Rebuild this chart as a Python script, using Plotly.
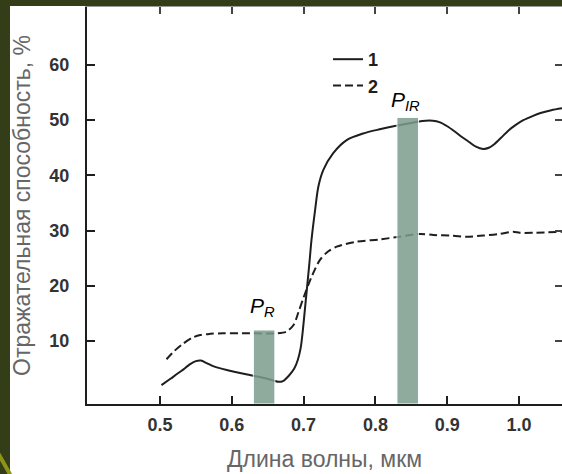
import plotly.graph_objects as go

# Spectral reflectance curves (wavelength in µm, reflectance in %)
wl_1 = [0.502, 0.515, 0.530, 0.542, 0.550, 0.557, 0.565, 0.575, 0.593, 0.625,
        0.645, 0.658, 0.665, 0.672, 0.680, 0.687, 0.692, 0.696, 0.699, 0.702,
        0.705, 0.708, 0.711, 0.716, 0.7205, 0.7275, 0.741, 0.760, 0.783, 0.806,
        0.827, 0.850, 0.865, 0.880, 0.890, 0.900, 0.910, 0.920, 0.930, 0.940,
        0.950, 0.958, 0.966, 0.975, 0.985, 0.995, 1.006, 1.018, 1.030, 1.045,
        1.060]
refl_1 = [2.0, 3.2, 4.6, 5.8, 6.35, 6.45, 6.0, 5.4, 4.75, 3.84,
          3.3, 2.85, 2.6, 2.8, 3.8, 5.0, 6.6, 8.8, 12.0, 16.0,
          20.0, 24.0, 28.3, 33.7, 37.95, 41.0, 44.0, 46.4, 47.6, 48.35,
          48.95, 49.5, 49.85, 49.9, 49.6, 48.9, 48.0, 47.0, 46.1, 45.2,
          44.8, 45.0, 45.7, 46.8, 48.1, 49.1, 50.0, 50.7, 51.3, 51.8,
          52.15]

wl_2 = [0.509, 0.520, 0.532, 0.545, 0.556, 0.570, 0.588, 0.625, 0.662, 0.676,
        0.686, 0.693, 0.700, 0.711, 0.7228, 0.734, 0.746, 0.774, 0.806, 0.834,
        0.862, 0.881, 0.904, 0.927, 0.950, 0.973, 0.992, 1.001, 1.020, 1.060]
refl_2 = [6.7, 8.2, 9.5, 10.6, 11.1, 11.3, 11.4, 11.4, 11.4, 11.7,
          12.9, 15.3, 17.9, 21.6, 24.7, 26.2, 27.1, 28.0, 28.4, 28.9,
          29.4, 29.2, 29.1, 28.9, 29.1, 29.4, 29.8, 29.6, 29.6, 29.8]

# Spectral bands (red and near infrared)
band_names = ["<i>P</i><sub><i>R</i></sub>", "<i>P</i><sub><i>IR</i></sub>"]
band_lo = [0.63, 0.83]
band_hi = [0.66, 0.86]
band_value = [12.0, 50.5]

x_ticks = [0.5, 0.6, 0.7, 0.8, 0.9, 1.0]
x_ticktext = ["0.5", "0.6", "0.7", "0.8", "0.9", "1.0"]
y_ticks = [10, 20, 30, 40, 50, 60]
y_ticktext = ["10", "20", "30", "40", "50", "60"]

X_RANGE = [0.3983, 1.0599]
Y_RANGE = [-1.41, 70.5]

FONT = "Liberation Sans, Arial, sans-serif"
INK = "#1e1e1e"
OLIVE = "#333d17"

W, H = 562, 474
M_L, M_R, M_T, M_B = 87, 0, 7, 70
PW, PH = W - M_L - M_R, H - M_T - M_B


def px_x(p):
    return (p - M_L) / PW


def px_y(p):
    return (H - M_B - p) / PH


fig = go.Figure()

fig.add_trace(go.Scatter(
    x=wl_1, y=refl_1, name="1", mode="lines",
    line=dict(color=INK, width=2, shape="spline", smoothing=0.8),
))
fig.add_trace(go.Scatter(
    x=wl_2, y=refl_2, name="2", mode="lines",
    line=dict(color=INK, width=2, dash="8px,4px", shape="spline", smoothing=0.8),
))

centers = [(a + b) / 2 for a, b in zip(band_lo, band_hi)]
widths = [b - a for a, b in zip(band_lo, band_hi)]
fig.add_trace(go.Bar(
    x=centers, y=[v - Y_RANGE[0] for v in band_value], base=Y_RANGE[0],
    width=widths, xaxis="x2", yaxis="y2", showlegend=False,
    marker=dict(color="#7b9d8d", line=dict(color="white", width=1)),
    opacity=0.85, hoverinfo="skip",
))

for name, c, v, ys in zip(band_names, centers, band_value, [8, 1]):
    fig.add_annotation(
        x=c, y=v, xref="x", yref="y", text=name, showarrow=False,
        yanchor="bottom", xanchor="center", yshift=ys, xshift=-2,
        font=dict(family=FONT, size=21, color="black"),
    )

tickfont = dict(family=FONT, size=18, color="#333333", weight="bold")
titlefont = dict(family=FONT, size=23, color="#666666")

fig.update_layout(
    width=W, height=H,
    margin=dict(l=M_L, r=M_R, t=M_T, b=M_B),
    paper_bgcolor="white", plot_bgcolor="white",
    showlegend=True,
    legend=dict(
        x=px_x(328), y=px_y(41), xanchor="left", yanchor="top",
        bgcolor="rgba(0,0,0,0)",
        font=dict(family=FONT, size=18, color=INK, weight="bold"),
        tracegroupgap=0,
    ),
    xaxis=dict(
        range=X_RANGE, tickvals=x_ticks, ticktext=x_ticktext,
        ticks="inside", ticklen=8, tickwidth=2, tickcolor=INK,
        showline=True, linewidth=2, linecolor=INK,
        showgrid=False, zeroline=False, layer="below traces",
        tickfont=tickfont, ticklabelstandoff=3,
        title=dict(text="Длина волны, мкм", font=titlefont, standoff=17),
    ),
    yaxis=dict(
        range=Y_RANGE, tickvals=y_ticks, ticktext=y_ticktext,
        ticks="inside", ticklen=8, tickwidth=2, tickcolor=INK,
        showline=True, linewidth=2, linecolor=INK,
        showgrid=False, zeroline=False, layer="below traces",
        tickfont=tickfont, ticklabelstandoff=12,
        title=dict(text="Отражательная способность, %", font=titlefont, standoff=12),
    ),
    xaxis2=dict(
        range=X_RANGE, overlaying="x", side="top", anchor="y2",
        tickvals=x_ticks, ticks="inside", ticklen=7, tickwidth=2, tickcolor="#444",
        showticklabels=False, showline=True, linewidth=1, linecolor="#9a9a9a",
        showgrid=False, zeroline=False,
    ),
    yaxis2=dict(
        range=Y_RANGE, overlaying="y", side="right", anchor="x2",
        tickvals=y_ticks, ticks="inside", ticklen=7, tickwidth=2, tickcolor="#444",
        showticklabels=False, showline=False,
        showgrid=False, zeroline=False,
    ),
)

# slide frame around the figure
fig.add_shape(type="rect", xref="paper", yref="paper", layer="above",
              x0=px_x(-5), x1=px_x(10), y0=px_y(H + 5), y1=px_y(-5),
              fillcolor=OLIVE, line=dict(width=0))
fig.add_shape(type="rect", xref="paper", yref="paper", layer="above",
              x0=px_x(-5), x1=px_x(W + 5), y0=px_y(6), y1=px_y(-5),
              fillcolor=OLIVE, line=dict(width=0))
fig.add_shape(type="line", xref="paper", yref="paper", layer="above",
              x0=px_x(-2), y0=px_y(453), x1=px_x(11), y1=px_y(476),
              line=dict(color="#8f9418", width=4))

fig.write_html("out.html")
